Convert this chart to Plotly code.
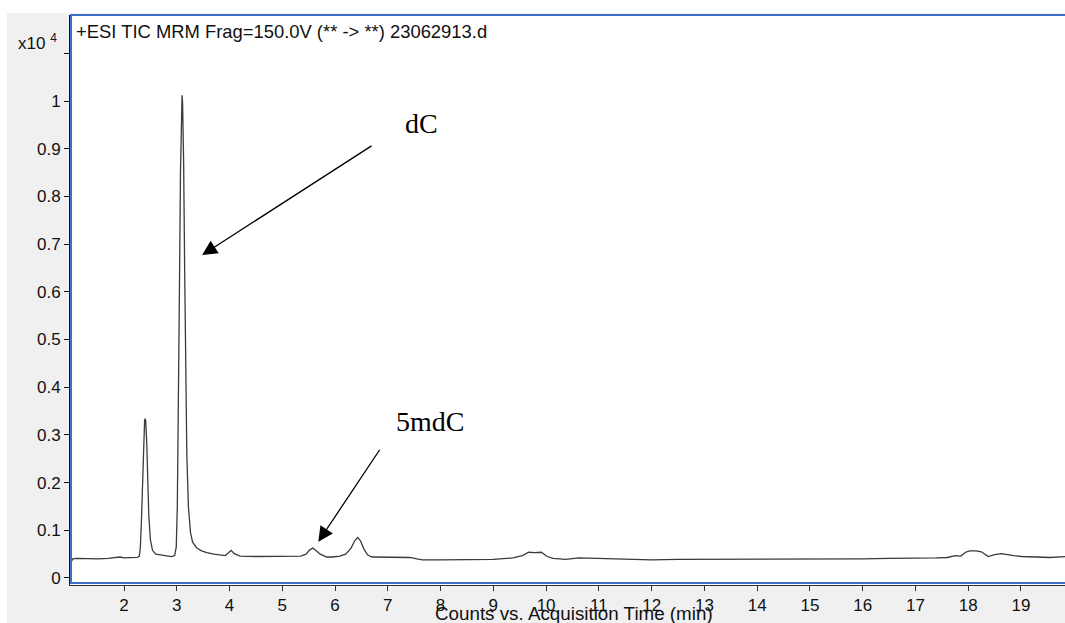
import plotly.graph_objects as go

# Chromatogram (+ESI TIC MRM), intensity in units of 10^4 counts
time_min = [1.00, 1.03, 1.10, 1.30, 1.50, 1.70, 1.85, 1.92, 2.00, 2.15, 2.25,
            2.29, 2.31, 2.33, 2.35, 2.37, 2.39, 2.40, 2.41, 2.43, 2.45, 2.47,
            2.50, 2.54, 2.60, 2.70, 2.80, 2.90, 2.96, 2.99, 3.01, 3.03, 3.05,
            3.07, 3.09, 3.10, 3.11, 3.13, 3.15, 3.17, 3.19, 3.22, 3.26, 3.30,
            3.38, 3.47, 3.57, 3.70, 3.82, 3.92, 3.97, 4.03, 4.09, 4.20, 4.50,
            4.80, 5.10, 5.35, 5.45, 5.52, 5.58, 5.64, 5.72, 5.84, 5.95, 6.09,
            6.20, 6.30, 6.38, 6.43, 6.48, 6.55, 6.62, 6.70, 7.00, 7.42, 7.55,
            7.65, 8.00, 8.50, 9.00, 9.37, 9.55, 9.67, 9.78, 9.91, 10.02, 10.13,
            10.37, 10.62, 10.90, 11.22, 11.72, 12.00, 12.50, 13.00, 13.50,
            14.00, 14.50, 15.00, 15.50, 16.00, 16.50, 17.00, 17.40, 17.60,
            17.76, 17.86, 17.95, 18.03, 18.15, 18.25, 18.38, 18.50, 18.63,
            18.86, 19.01, 19.30, 19.55, 19.85]
counts_e4 = [0.034, 0.040, 0.041, 0.040, 0.040, 0.041, 0.044, 0.044, 0.042, 0.043, 0.043,
             0.046, 0.065, 0.120, 0.210, 0.295, 0.330, 0.334, 0.330, 0.285, 0.200, 0.130,
             0.080, 0.058, 0.050, 0.048, 0.046, 0.045, 0.047, 0.065, 0.150, 0.330, 0.600,
             0.850, 0.995, 1.012, 0.995, 0.870, 0.640, 0.420, 0.260, 0.150, 0.095, 0.075,
             0.063, 0.057, 0.053, 0.050, 0.048, 0.047, 0.052, 0.058, 0.051, 0.046, 0.045,
             0.045, 0.045, 0.046, 0.050, 0.059, 0.063, 0.058, 0.050, 0.044, 0.044, 0.046,
             0.050, 0.062, 0.079, 0.085, 0.078, 0.060, 0.048, 0.044, 0.044, 0.043, 0.040,
             0.038, 0.038, 0.038, 0.039, 0.042, 0.047, 0.054, 0.053, 0.054, 0.045, 0.041,
             0.039, 0.042, 0.041, 0.041, 0.038, 0.038, 0.039, 0.039, 0.040,
             0.040, 0.040, 0.040, 0.040, 0.040, 0.041, 0.041, 0.042, 0.043,
             0.047, 0.046, 0.054, 0.057, 0.057, 0.055, 0.045, 0.049, 0.051,
             0.047, 0.045, 0.044, 0.043, 0.045]

y_tick_vals = [0, 0.1, 0.2, 0.3, 0.4, 0.5, 0.6, 0.7, 0.8, 0.9, 1.0, 1.1]
y_tick_text = ["0", "0.1", "0.2", "0.3", "0.4", "0.5", "0.6", "0.7", "0.8", "0.9", "1", ""]
x_tick_vals = list(range(2, 20))
x_tick_text = [str(v) for v in x_tick_vals]

title_text = "+ESI TIC MRM Frag=150.0V (** -> **) 23062913.d"
x_title = "Counts vs. Acquisition Time (min)"
labels = ["dC", "5mdC"]
label_pos = [(7.63, 0.952), (7.80, 0.329)]
arrow_tail = [(6.72, 0.908), (6.865, 0.272)]
arrow_head = [(3.48, 0.677), (5.683, 0.076)]

W, H = 1065, 623
L, R, T, B = 70, 0, 15, 38
PW, PH = W - L - R, H - T - B

def px_x(p):
    return (p - L) / PW

def px_y(p):
    return (H - B - p) / PH

fig = go.Figure()
fig.add_trace(go.Scatter(x=time_min, y=counts_e4, mode="lines",
                         line=dict(color="#3a3a3a", width=1.3),
                         hoverinfo="skip", showlegend=False))

sans = "Liberation Sans, Arial, sans-serif"
axis_font = dict(family=sans, size=17, color="#111")

fig.update_layout(
    width=W, height=H,
    margin=dict(l=L, r=R, t=T, b=B, pad=0),
    paper_bgcolor="#f0f0f0",
    plot_bgcolor="white",
    showlegend=False,
    xaxis=dict(range=[0.976, 19.835], tickvals=x_tick_vals, ticktext=x_tick_text,
               showgrid=False, zeroline=False, showline=True, linecolor="#333",
               linewidth=1, ticks="outside", ticklen=5, tickcolor="#333",
               tickfont=axis_font, fixedrange=True),
    yaxis=dict(range=[-0.0147, 1.1803], tickvals=y_tick_vals, ticktext=y_tick_text,
               showgrid=False, zeroline=False, showline=True, linecolor="#111",
               linewidth=1, ticks="outside", ticklen=5, tickcolor="#111",
               tickfont=axis_font, fixedrange=True),
)

shapes = [
    # white strips outside the grey panel
    dict(type="rect", xref="paper", yref="paper", x0=px_x(0), x1=px_x(W), y0=px_y(13), y1=px_y(0),
         fillcolor="white", line=dict(width=0), layer="below"),
    dict(type="rect", xref="paper", yref="paper", x0=px_x(0), x1=px_x(7), y0=px_y(H), y1=px_y(0),
         fillcolor="white", line=dict(width=0), layer="below"),
    # blue frame of the plot panel
    dict(type="rect", xref="paper", yref="paper", x0=px_x(71), x1=px_x(W + 5), y0=px_y(583), y1=px_y(15),
         fillcolor="rgba(0,0,0,0)", line=dict(color="#3b70c6", width=2), layer="above"),
]
fig.update_layout(shapes=shapes)

annotations = [
    dict(xref="paper", yref="paper", x=px_x(74), y=px_y(32), xanchor="left", yanchor="middle",
         text=title_text, showarrow=False,
         font=dict(family=sans, size=18.4, color="#111")),
    dict(xref="paper", yref="paper", x=px_x(59), y=px_y(42), xanchor="right", yanchor="middle",
         text="x10 <sup>4</sup>", showarrow=False,
         font=dict(family=sans, size=17, color="#111")),
    dict(xref="paper", yref="paper", x=px_x(574), y=px_y(613), xanchor="center", yanchor="middle",
         text=x_title, showarrow=False,
         font=dict(family=sans, size=18.8, color="#111")),
]
for lab, (lx, ly) in zip(labels, label_pos):
    annotations.append(dict(x=lx, y=ly, xref="x", yref="y", text=lab, showarrow=False,
                            xanchor="center", yanchor="middle",
                            font=dict(family="Liberation Serif, Times New Roman, serif",
                                      size=28, color="black")))
for (tx, ty), (hx, hy) in zip(arrow_tail, arrow_head):
    annotations.append(dict(x=hx, y=hy, ax=tx, ay=ty, xref="x", yref="y", axref="x", ayref="y",
                            text="", showarrow=True, arrowhead=2, arrowsize=2.3,
                            arrowwidth=1.3, arrowcolor="black", standoff=0))
fig.update_layout(annotations=annotations)

fig.write_html("out.html", config={"displayModeBar": False})
